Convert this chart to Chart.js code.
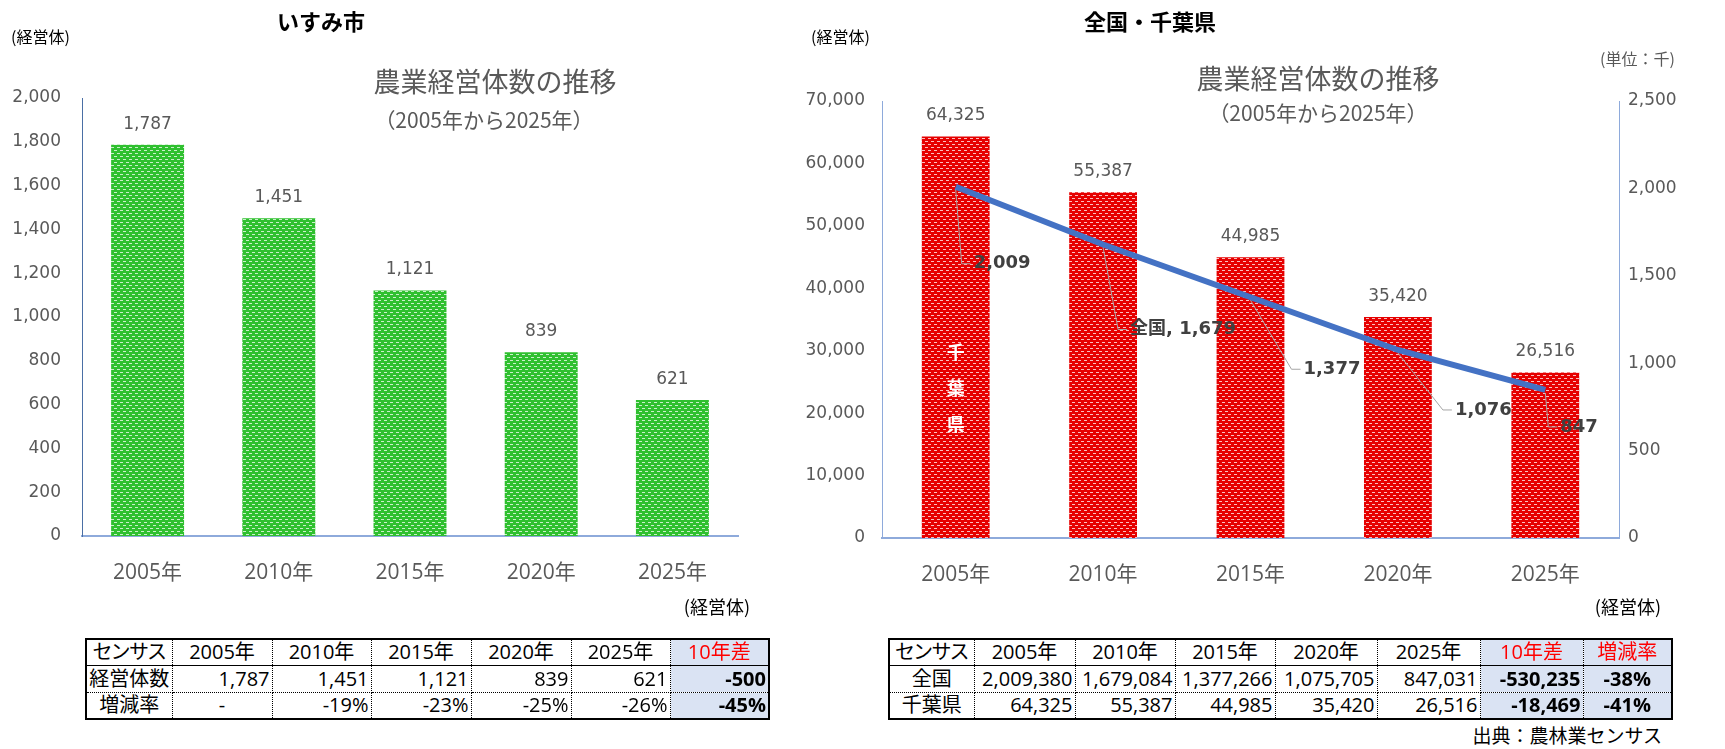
<!DOCTYPE html>
<html lang="ja">
<head>
<meta charset="utf-8">
<script src="https://cdn.jsdelivr.net/npm/chart.js@4.4.1/dist/chart.umd.min.js"></script>
<style>
body { margin:0; background:#fff; }
#wrap { position:relative; width:1725px; height:749px; overflow:hidden; font-family:"Noto Sans CJK JP", sans-serif; }
canvas { position:absolute; top:0; }
.t { position:absolute; white-space:nowrap; color:#595959; line-height:1; }
.c { transform:translate(-50%,-50%); }
.r { transform:translate(-100%,-50%); }
.l { transform:translate(0,-50%); }
.ttl { color:#000; font-weight:bold; font-size:22px; }
table { position:absolute; border-collapse:collapse; table-layout:fixed; border:2px solid #000;
  font-family:"Open Sans","Noto Sans CJK JP",sans-serif; font-size:20px; color:#000; font-feature-settings:"palt"; }
td { border:1px dotted #000; padding:0 2px; text-align:right; line-height:1; white-space:nowrap; overflow:hidden; }
tr.hd td { border-bottom:1px solid #000; text-align:center; }
td.h { text-align:center; }
td.b { background:#dae3f3; font-weight:bold; }
td.red { color:#ff0000; font-weight:normal; }
</style>
</head>
<body>
<div id="wrap">
  <canvas id="left" width="780" height="600" style="left:0"></canvas>
  <canvas id="right" width="935" height="600" style="left:790px"></canvas>

  <div class="t c ttl" style="left:321px; top:20px">いすみ市</div>
  <div class="t c ttl" style="left:1150px; top:20px">全国・千葉県</div>
  <div class="t l" style="left:11px; top:36px; font-size:16px; color:#000">(経営体)</div>
  <div class="t l" style="left:811px; top:36px; font-size:16px; color:#000">(経営体)</div>
  <div class="t l" style="left:1600px; top:58px; font-size:16px">(単位：千)</div>
  <div class="t c" style="left:495px; top:80px; font-size:27px">農業経営体数の推移</div>
  <div class="t c" style="left:484px; top:119px; font-size:21px">（2005年から2025年）</div>
  <div class="t c" style="left:1318px; top:77px; font-size:27px">農業経営体数の推移</div>
  <div class="t c" style="left:1318px; top:112px; font-size:21px">（2005年から2025年）</div>
  <div class="t r" style="left:750px; top:606px; font-size:18px; color:#000">(経営体)</div>
  <div class="t r" style="left:1661px; top:606px; font-size:18px; color:#000">(経営体)</div>
  <div class="t r" style="left:1662px; top:734px; font-size:19px; color:#000">出典：農林業センサス</div>

  <table id="tblL" style="left:85px; top:638px; width:683px"></table>
  <table id="tblR" style="left:888px; top:638px; width:783px"></table>
</div>

<script>
// データ
const years = ['2005年', '2010年', '2015年', '2020年', '2025年']
const isumi = [1787, 1451, 1121, 839, 621]
const isumiRate = ['-', '-19%', '-23%', '-25%', '-26%']
const isumiDiff = -500
const isumiDiffRate = '-45%'

const chiba = [64325, 55387, 44985, 35420, 26516]
const zenkoku = [2009380, 1679084, 1377266, 1075705, 847031]
const zenkokuDiff = -530235
const chibaDiff = -18469
const zenkokuRate = '-38%'
const chibaRate = '-41%'

// 全国の折れ線は千単位
const zenkokuSen = zenkoku.map(v => v / 1000)

// ラベル位置（点からのずれ）
const lineLabelOffsets = [[18, 77], [27, 85], [53, 72], [57, 60], [15, 37]]

const fmt = v => Math.round(v).toLocaleString('en-US')
const numFont = '"DejaVu Sans", "Noto Sans CJK JP", sans-serif'
const xFont = '"Open Sans", "Noto Sans CJK JP", sans-serif'

function dots(base) {
    const c = document.createElement('canvas')
    c.width = 6
    c.height = 6
    const g = c.getContext('2d')
    g.fillStyle = base
    g.fillRect(0, 0, 6, 6)
    g.fillStyle = 'rgba(255,255,255,0.75)'
    g.fillRect(0, 0, 3, 1)
    g.fillRect(3, 3, 3, 1)
    return g.createPattern(c, 'repeat')
}

// 棒の上の数値
const barLabels = {
    id: 'barLabels',
    afterDatasetsDraw(chart) {
        const ctx = chart.ctx
        chart.data.datasets.forEach((ds, i) => {
            if (ds.type !== 'bar') return
            const meta = chart.getDatasetMeta(i)
            ctx.save()
            ctx.font = '17px ' + numFont
            ctx.fillStyle = '#595959'
            ctx.textAlign = 'center'
            ctx.textBaseline = 'bottom'
            meta.data.forEach((bar, j) => {
                ctx.fillText(fmt(ds.data[j]), bar.x, bar.y - 12)
            })
            ctx.restore()
        })
    }
}

// 折れ線のラベル（引き出し線つき）と「千葉県」
const lineLabels = {
    id: 'lineLabels',
    afterDatasetsDraw(chart) {
        const ctx = chart.ctx
        const lineMeta = chart.getDatasetMeta(0)
        const ds = chart.data.datasets[0]
        ctx.save()
        lineMeta.data.forEach((p, j) => {
            const lx = p.x + lineLabelOffsets[j][0]
            const ly = p.y + lineLabelOffsets[j][1]
            ctx.strokeStyle = '#a6a6a6'
            ctx.lineWidth = 1
            ctx.beginPath()
            ctx.moveTo(p.x, p.y + 3)
            ctx.lineTo(lx - 12, ly)
            ctx.lineTo(lx - 3, ly)
            ctx.stroke()
            ctx.font = 'bold 18px ' + numFont
            ctx.fillStyle = '#404040'
            ctx.textAlign = 'left'
            ctx.textBaseline = 'middle'
            const txt = j === 1 ? ds.label + ', ' + fmt(ds.data[j]) : fmt(ds.data[j])
            ctx.fillText(txt, lx, ly)
        })
        const bar = chart.getDatasetMeta(1).data[0]
        ctx.font = 'bold 18px "Noto Sans CJK JP", sans-serif'
        ctx.fillStyle = '#ffffff'
        ctx.textAlign = 'center'
        ;['千', '葉', '県'].forEach((ch, k) => {
            ctx.fillText(ch, bar.x, bar.base - 186 + k * 36)
        })
        ctx.restore()
    }
}

Chart.defaults.locale = 'en-US'
Chart.defaults.color = '#595959'

new Chart(document.getElementById('left'), {
    type: 'bar',
    data: {
        labels: years,
        datasets: [{
            type: 'bar',
            data: isumi,
            backgroundColor: dots('#2fc02f'),
            barPercentage: 0.556,
            categoryPercentage: 1
        }]
    },
    options: {
        responsive: false,
        animation: false,
        layout: { padding: { top: 98, right: 42, left: 0, bottom: 0 } },
        plugins: { legend: { display: false }, tooltip: { enabled: false } },
        scales: {
            x: {
                grid: { display: false, drawTicks: false },
                border: { color: '#8eaadb', width: 2 },
                ticks: { padding: 24, font: { family: xFont, size: 21 }, color: '#595959' },
                afterFit: s => { s.height = 64 }
            },
            y: {
                min: 0, max: 2000,
                grid: { display: false, drawTicks: false },
                border: { color: '#4a6fa5', width: 1 },
                ticks: { stepSize: 200, padding: 21, font: { family: numFont, size: 17 }, color: '#595959' },
                afterFit: s => { s.width = 82 }
            }
        }
    },
    plugins: [barLabels]
})

new Chart(document.getElementById('right'), {
    type: 'bar',
    data: {
        labels: years,
        datasets: [{
            type: 'line',
            label: '全国',
            data: zenkokuSen,
            yAxisID: 'y1',
            borderColor: '#4472c4',
            borderWidth: 6,
            pointRadius: 0,
            tension: 0,
            order: 1
        }, {
            type: 'bar',
            label: '千葉県',
            data: chiba,
            yAxisID: 'y',
            backgroundColor: dots('#e60000'),
            barPercentage: 0.46,
            categoryPercentage: 1,
            order: 2
        }]
    },
    options: {
        responsive: false,
        animation: false,
        layout: { padding: { top: 101, right: 0, left: 0, bottom: 0 } },
        plugins: { legend: { display: false }, tooltip: { enabled: false } },
        scales: {
            x: {
                grid: { display: false, drawTicks: false },
                border: { color: '#8eaadb', width: 2 },
                ticks: { padding: 24, font: { family: xFont, size: 21 }, color: '#595959' },
                afterFit: s => { s.height = 62 }
            },
            y: {
                position: 'left',
                min: 0, max: 70000,
                grid: { display: false, drawTicks: false },
                border: { color: '#8eaadb', width: 1 },
                ticks: { stepSize: 10000, padding: 17, font: { family: numFont, size: 17 }, color: '#595959' },
                afterFit: s => { s.width = 92 }
            },
            y1: {
                position: 'right',
                min: 0, max: 2500,
                grid: { display: false, drawTicks: false },
                border: { color: '#8eaadb', width: 1 },
                ticks: { stepSize: 500, padding: 9, font: { family: numFont, size: 17 }, color: '#595959' },
                afterFit: s => { s.width = 106 }
            }
        }
    },
    plugins: [barLabels, lineLabels]
})

// 表
function makeTable(id, widths, rows) {
    const t = document.getElementById(id)
    const cg = document.createElement('colgroup')
    widths.forEach(w => {
        const c = document.createElement('col')
        c.style.width = w + 'px'
        cg.appendChild(c)
    })
    t.appendChild(cg)
    rows.forEach((r, ri) => {
        const tr = document.createElement('tr')
        if (ri === 0) tr.className = 'hd'
        tr.style.height = ri === 0 ? '26px' : '27px'
        r.forEach(cell => {
            const td = document.createElement('td')
            td.textContent = cell.text
            if (cell.cls) td.className = cell.cls
            tr.appendChild(td)
        })
        t.appendChild(tr)
    })
}

const cell = (text, cls) => ({ text, cls })

makeTable('tblL', [86, 100, 99, 100, 100, 99, 99], [
    [cell('センサス'), ...years.map(y => cell(y)), cell('10年差', 'b red')],
    [cell('経営体数', 'h'), ...isumi.map(v => cell(fmt(v))), cell(fmt(isumiDiff), 'b')],
    [cell('増減率', 'h'), ...isumiRate.map(v => cell(v, v === '-' ? 'h' : '')), cell(isumiDiffRate, 'b')]
])

makeTable('tblR', [85, 101, 100, 100, 102, 103, 103, 89], [
    [cell('センサス'), ...years.map(y => cell(y)), cell('10年差', 'b red'), cell('増減率', 'b red')],
    [cell('全国', 'h'), ...zenkoku.map(v => cell(fmt(v))), cell(fmt(zenkokuDiff), 'b'), cell(zenkokuRate, 'b h')],
    [cell('千葉県', 'h'), ...chiba.map(v => cell(fmt(v))), cell(fmt(chibaDiff), 'b'), cell(chibaRate, 'b h')]
])
</script>
</body>
</html>
